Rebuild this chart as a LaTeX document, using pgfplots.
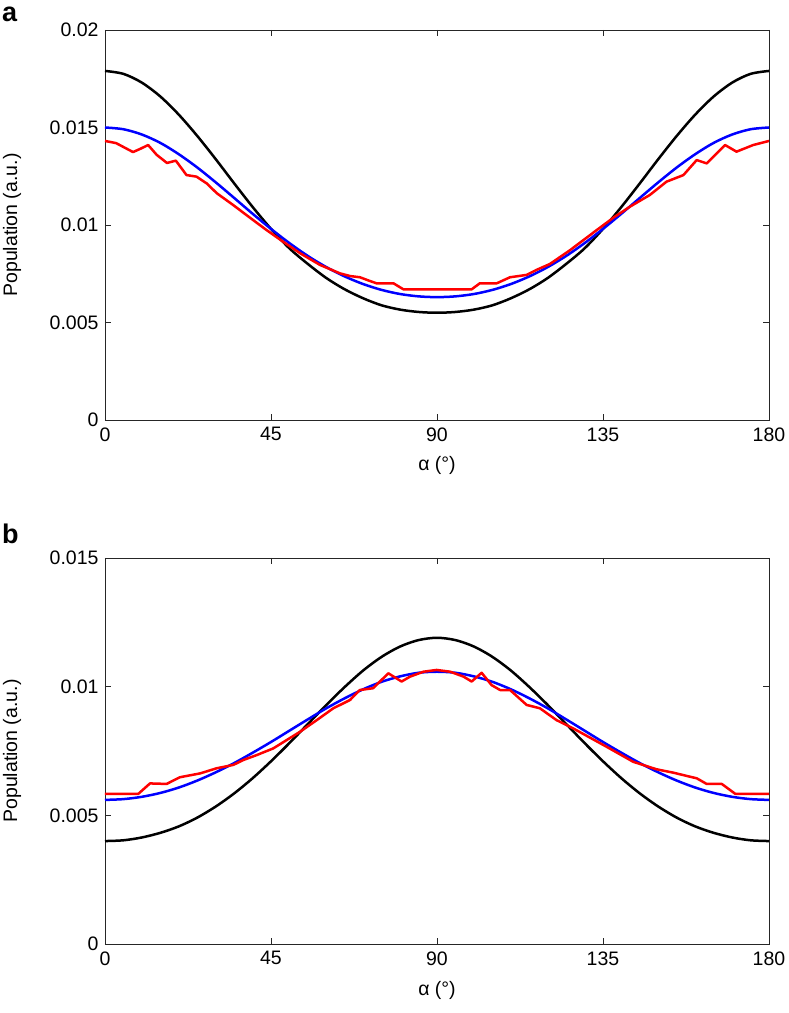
\documentclass[border=0pt]{standalone}
\usepackage{fontspec}
\setmainfont{Liberation Sans}
\usepackage{pgfplots}
\pgfplotsset{compat=1.18}
\pgfplotsset{
  panel/.style={
    scale only axis, width=664pt, anchor=south west,
    xmin=0, xmax=180, xtick={0,45,90,135,180},
    tick align=inside, major tick length=6pt,
    axis line style={black!85, line width=0.9pt},
    every tick/.style={black!85, line width=0.9pt},
    tick label style={font=\fontsize{19.5}{22}\selectfont},
    xticklabel style={yshift=-4pt},
    yticklabel style={xshift=-3pt},
    label style={font=\fontsize{19.5}{22}\selectfont},
    /pgf/number format/assume math mode=true,
    scaled y ticks=false,
    xlabel={α (°)}, ylabel={Population (a.u.)},
    ylabel style={at={(axis description cs:-0.140,0.5)}, anchor=center},
  },
  bk/.style={black, line width=2.5pt, smooth, no marks},
  bl/.style={blue, line width=2.5pt, smooth, no marks},
  rd/.style={red, line width=2.5pt, line join=round, no marks},
}
\begin{document}
\begin{tikzpicture}
\path[use as bounding box] (0pt,0pt) rectangle (788pt,1013pt);
% ---------------- panel a ----------------
\begin{axis}[panel, at={(105pt,593pt)}, height=390pt,
  ymin=0, ymax=0.02, ytick={0,0.005,0.01,0.015,0.02},
  yticklabels={0,0.005,0.01,0.015,0.02},
  xlabel style={at={(axis description cs:0.5,-0.1154)}, anchor=center}]
\addplot[bk] coordinates {(0,0.0179)(5,0.01775)(10,0.0173)(15,0.01659)(20,0.01566)(25,0.01457)(30,0.01338)(35,0.01214)(40,0.01093)(45,0.0098)(50,0.0088)(55,0.0080)(60,0.00728)(65,0.0067)(70,0.00624)(75,0.00588)(80,0.00566)(85,0.00554)(90,0.0055)(95,0.00554)(100,0.00566)(105,0.00588)(110,0.00624)(115,0.0067)(120,0.00728)(125,0.0080)(130,0.0088)(135,0.0098)(140,0.01093)(145,0.01214)(150,0.01338)(155,0.01457)(160,0.01566)(165,0.01659)(170,0.0173)(175,0.01775)(180,0.0179)};
\addplot[bl] coordinates {(0,0.0150)(5,0.01491)(10,0.01464)(15,0.01421)(20,0.01363)(25,0.01295)(30,0.01219)(35,0.01139)(40,0.01058)(45,0.0098)(50,0.00907)(55,0.00841)(60,0.00784)(65,0.00736)(70,0.00697)(75,0.00667)(80,0.00646)(85,0.00634)(90,0.0063)(95,0.00634)(100,0.00646)(105,0.00667)(110,0.00697)(115,0.00736)(120,0.00784)(125,0.00841)(130,0.00907)(135,0.0098)(140,0.01058)(145,0.01139)(150,0.01219)(155,0.01295)(160,0.01363)(165,0.01421)(170,0.01464)(175,0.01491)(180,0.0150)};
\addplot[rd] coordinates {(0,0.01431)(3,0.0142)(7.6,0.01374)(9.5,0.0139)(11.7,0.0141)(14,0.0136)(16.8,0.01318)(19.2,0.0133)(22.1,0.01256)(24.8,0.01248)(27.6,0.01213)(30.3,0.01163)(34.7,0.01103)(40.1,0.01026)(43.8,0.00974)(48,0.00918)(52.9,0.00855)(58.3,0.00795)(63.7,0.00752)(66.5,0.00738)(69.1,0.00732)(71.5,0.00715)(73.6,0.00701)(78.2,0.00701)(80.9,0.0067)(99.4,0.0067)(101.6,0.00701)(106.2,0.00701)(109.8,0.00732)(114.3,0.00744)(117,0.0077)(120.6,0.0080)(126,0.0087)(133.3,0.00974)(138,0.0104)(142.3,0.01094)(147.7,0.01154)(152.2,0.01222)(156.8,0.01256)(160.4,0.01333)(163.1,0.01316)(168.1,0.0141)(171.2,0.01376)(175.7,0.0141)(180,0.01431)};
\end{axis}
% ---------------- panel b ----------------
\begin{axis}[panel, at={(105pt,69pt)}, height=386pt,
  ymin=0, ymax=0.015, ytick={0,0.005,0.01,0.015},
  yticklabels={0,0.005,0.01,0.015},
  xlabel style={at={(axis description cs:0.5,-0.1192)}, anchor=center}]
\addplot[bk] coordinates {(0,0.0040)(5,0.00403)(10,0.00414)(15,0.00432)(20,0.00457)(25,0.00491)(30,0.00534)(35,0.00585)(40,0.00644)(45,0.0071)(50,0.00781)(55,0.00855)(60,0.00929)(65,0.00999)(70,0.01063)(75,0.01116)(80,0.01156)(85,0.01181)(90,0.0119)(95,0.01181)(100,0.01156)(105,0.01116)(110,0.01063)(115,0.00999)(120,0.00929)(125,0.00855)(130,0.00781)(135,0.0071)(140,0.00644)(145,0.00585)(150,0.00534)(155,0.00491)(160,0.00457)(165,0.00432)(170,0.00414)(175,0.00403)(180,0.0040)};
\addplot[bl] coordinates {(0,0.0056)(5,0.00563)(10,0.00572)(15,0.00587)(20,0.00608)(25,0.00635)(30,0.00667)(35,0.00703)(40,0.00743)(45,0.00785)(50,0.00829)(55,0.00873)(60,0.00916)(65,0.00955)(70,0.0099)(75,0.01019)(80,0.0104)(85,0.01054)(90,0.01058)(95,0.01054)(100,0.0104)(105,0.01019)(110,0.0099)(115,0.00955)(120,0.00916)(125,0.00873)(130,0.00829)(135,0.00785)(140,0.00743)(145,0.00703)(150,0.00667)(155,0.00635)(160,0.00608)(165,0.00587)(170,0.00572)(175,0.00563)(180,0.0056)};
\addplot[rd] coordinates {(0,0.00583)(9,0.00583)(12.2,0.00624)(16.7,0.00622)(20.3,0.00648)(25.8,0.00663)(30.3,0.00683)(34.8,0.00696)(37.5,0.00715)(41.1,0.00734)(45.6,0.0076)(52.9,0.00825)(57.4,0.0087)(61.9,0.00916)(66.4,0.00948)(69.1,0.00987)(72.7,0.00994)(76.8,0.01052)(80.4,0.0102)(82.7,0.01039)(86.3,0.01058)(89.9,0.01065)(93.6,0.01058)(97.2,0.01039)(99.4,0.0102)(102.1,0.01054)(104.8,0.01006)(107.1,0.00987)(109.8,0.00987)(114.3,0.00929)(117.9,0.00916)(122.4,0.0087)(126.9,0.00838)(135.9,0.00767)(143.2,0.00708)(149.5,0.00679)(154,0.00666)(158.6,0.0065)(160.4,0.00644)(163.1,0.00622)(167.2,0.00622)(170.9,0.00583)(180,0.00583)};
\end{axis}
\node[anchor=base west, inner sep=0pt, font=\bfseries\fontsize{27}{27}\selectfont] at (2pt,991pt) {a};
\node[anchor=base west, inner sep=0pt, font=\bfseries\fontsize{27}{27}\selectfont] at (2pt,469pt) {b};
\end{tikzpicture}
\end{document}
